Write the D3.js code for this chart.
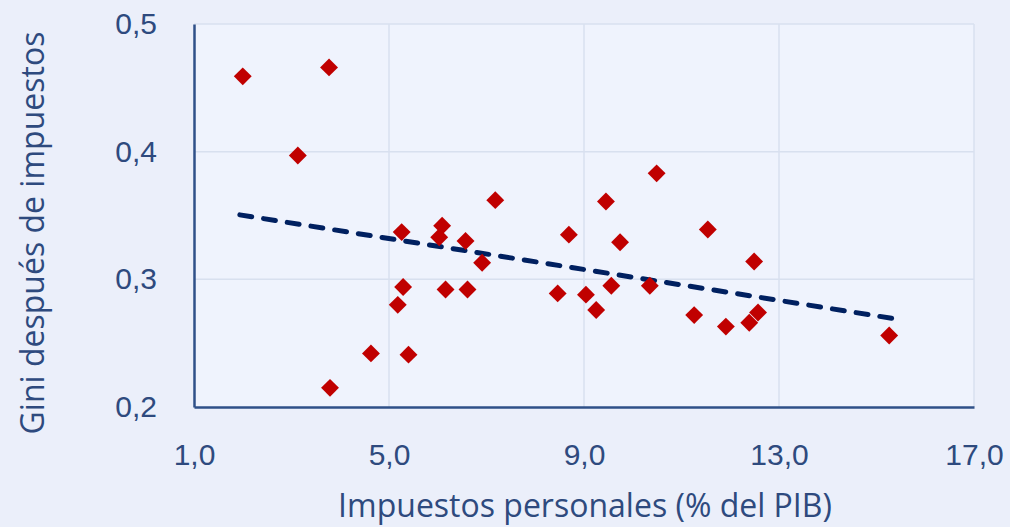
<!DOCTYPE html>
<html lang="es">
<head>
    <meta charset="UTF-8">
    <title>Gini vs impuestos personales</title>
    <style>
        html, body { margin: 0; padding: 0; background: #ecf0fa; }
        #chart { font-family: "Open Sans", sans-serif; }
        .grid line { stroke: #d8e0ef; stroke-width: 1.5px; }
        .tick-label { fill: #2e4a7e; font-size: 30px; }
        .axis-title { fill: #2e4a7e; font-size: 32px; }
    </style>
    <script src="https://d3js.org/d3.v7.min.js"></script>
</head>
<body>
    <div id="chart"></div>
    <script>
        // Impuestos personales (% del PIB)
        const taxValues = [2.0, 3.77, 3.13, 3.79, 4.63, 5.18, 5.29, 5.26, 5.40, 6.09, 6.03,
            6.16, 6.57, 6.61, 6.91, 7.18, 8.46, 8.69, 9.04, 9.25, 9.45, 9.56, 9.74,
            10.49, 10.35, 11.26, 11.54, 11.91, 12.39, 12.57, 12.49, 15.26];
        // Gini después de impuestos
        const giniValues = [0.459, 0.466, 0.397, 0.215, 0.242, 0.280, 0.294, 0.337, 0.241, 0.342, 0.333,
            0.292, 0.330, 0.292, 0.313, 0.362, 0.289, 0.335, 0.288, 0.276, 0.361, 0.295, 0.329,
            0.383, 0.295, 0.272, 0.339, 0.263, 0.266, 0.274, 0.314, 0.256];

        // linear trend line end points
        const trendX = [1.94, 15.31];
        const trendY = [0.3505, 0.2695];

        const xTicks = [1, 5, 9, 13, 17];
        const yTicks = [0.2, 0.3, 0.4, 0.5];

        const W = 1010, H = 527;
        const plot = { left: 194, right: 974, top: 24, bottom: 407 };

        const svg = d3.select("#chart").append("svg")
            .attr("width", W)
            .attr("height", H);

        svg.append("rect")
            .attr("width", W).attr("height", H)
            .attr("fill", "#ebeffa");

        const x = d3.scaleLinear().domain([1, 17]).range([plot.left, plot.right]);
        const y = d3.scaleLinear().domain([0.2, 0.5]).range([plot.bottom, plot.top]);
        const fmt = v => d3.format(".1f")(v).replace(".", ",");

        svg.append("rect")
            .attr("x", plot.left).attr("y", plot.top)
            .attr("width", plot.right - plot.left)
            .attr("height", plot.bottom - plot.top)
            .attr("fill", "#eff3fd");

        // gridlines
        const grid = svg.append("g").attr("class", "grid");
        grid.selectAll(".gx").data(xTicks.slice(1)).enter().append("line")
            .attr("x1", d => x(d)).attr("x2", d => x(d))
            .attr("y1", plot.top).attr("y2", plot.bottom);
        grid.selectAll(".gy").data(yTicks.slice(1)).enter().append("line")
            .attr("x1", plot.left).attr("x2", plot.right)
            .attr("y1", d => y(d)).attr("y2", d => y(d));

        // axes
        const xAxis = svg.append("g")
            .attr("transform", `translate(0,${plot.bottom})`)
            .call(d3.axisBottom(x).tickValues(xTicks).tickFormat(fmt).tickSize(0).tickPadding(37));
        const yAxis = svg.append("g")
            .attr("transform", `translate(${plot.left},0)`)
            .call(d3.axisLeft(y).tickValues(yTicks).tickFormat(fmt).tickSize(0).tickPadding(37));

        [xAxis, yAxis].forEach(a => {
            a.select(".domain").attr("stroke", "#2f5088").attr("stroke-width", 2.5);
            a.selectAll("text").attr("class", "tick-label").attr("font-family", null).attr("font-size", null);
        });
        xAxis.selectAll("text").attr("dy", "0.71em");

        // trend line
        const trend = trendX.map((v, i) => [v, trendY[i]]);
        svg.append("path")
            .datum(trend)
            .attr("d", d3.line().x(d => x(d[0])).y(d => y(d[1])))
            .attr("fill", "none")
            .attr("stroke", "#002060")
            .attr("stroke-width", 5)
            .attr("stroke-linecap", "round")
            .attr("stroke-dasharray", "12,12");

        // points
        const pts = taxValues.map((v, i) => ({ tax: v, gini: giniValues[i] }));
        svg.selectAll(".pt").data(pts).enter().append("path")
            .attr("class", "pt")
            .attr("d", d3.symbol(d3.symbolSquare, 160))
            .attr("transform", d => `translate(${x(d.tax)},${y(d.gini)}) rotate(45)`)
            .attr("fill", "#c00000");

        // axis titles
        svg.append("text")
            .attr("class", "axis-title")
            .attr("x", 585).attr("y", 517)
            .attr("text-anchor", "middle")
            .text("Impuestos personales (% del PIB)");

        svg.append("text")
            .attr("class", "axis-title")
            .attr("transform", "translate(44,233) rotate(-90)")
            .attr("text-anchor", "middle")
            .text("Gini después de impuestos");
    </script>
</body>
</html>
